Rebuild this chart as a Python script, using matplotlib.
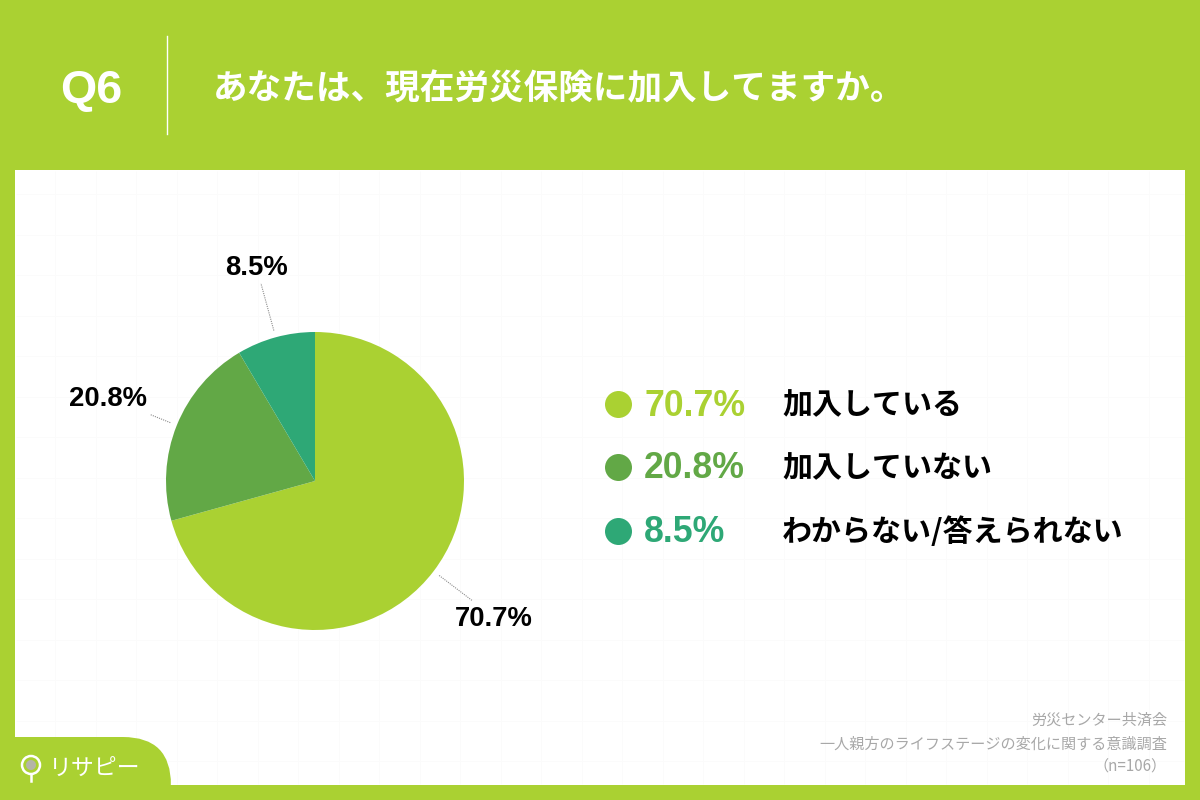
import numpy as np
import matplotlib
matplotlib.use('Agg')
import matplotlib.pyplot as plt
from matplotlib.patches import Rectangle, FancyBboxPatch, Circle, Wedge

plt.rcParams['font.family'] = ['Noto Sans CJK JP', 'DejaVu Sans']

# datos
categorias = ['加入している', '加入していない', 'わからない/答えられない']
valores = [70.7, 20.8, 8.5]
colores = ['#aad132', '#62a846', '#2ea876']
etiquetas = ['70.7%', '20.8%', '8.5%']
pregunta = 'Q6'
titulo = 'あなたは、現在労災保険に加入してますか。'
notas = ['労災センター共済会', '一人親方のライフステージの変化に関する意識調査', '（n=106）']

verde = '#aad132'
fig = plt.figure(figsize=(12, 8), dpi=100, facecolor=verde)

# fondo en pixeles
fondo = fig.add_axes([0, 0, 1, 1])
fondo.set_xlim(0, 1200)
fondo.set_ylim(800, 0)
fondo.axis('off')
fondo.add_patch(Rectangle((15, 170), 1170, 615, facecolor='white', edgecolor='none', zorder=0))

# cuadricula muy suave del panel
for x in np.arange(55, 1180, 40.5):
    fondo.plot([x, x], [171, 784], color='#fbfbfb', lw=0.7, zorder=0.5, solid_capstyle='butt')
for y in np.arange(194, 780, 40.5):
    fondo.plot([16, 1184], [y, y], color='#fbfbfb', lw=0.7, zorder=0.5, solid_capstyle='butt')

# cabecera
fondo.plot([167, 167], [36, 134], color='white', lw=1, zorder=2)
fondo.text(91, 91, pregunta, color='white', fontsize=33.5, fontweight='bold',
           family=['Liberation Sans'], ha='center', va='center')
fondo.text(213, 89, titulo, color='white', fontsize=24.9, fontweight='bold',
           ha='left', va='center')

# torta
cx, cy, radio = 315, 481, 149
ax = fig.add_axes([(cx - radio) / 1200, (800 - cy - radio) / 800, 2 * radio / 1200, 2 * radio / 800])
cunas, _ = ax.pie(valores, colors=colores, startangle=90, counterclock=False, radius=1)
ax.set_xlim(-1, 1)
ax.set_ylim(-1, 1)
ax.set_aspect('equal')

# etiquetas con linea punteada
largos = [198, 178, 205]
pos_texto = [(494, 619), (108, 399), (256, 268)]
for cuna, largo, pos, et in zip(cunas, largos, pos_texto, etiquetas):
    ang = np.deg2rad((cuna.theta1 + cuna.theta2) / 2)
    x0, y0 = cx + 156 * np.cos(ang), cy - 156 * np.sin(ang)
    x1, y1 = cx + largo * np.cos(ang), cy - largo * np.sin(ang)
    fondo.plot([x0, x1], [y0, y1], color='#8c8c8c', lw=0.8, ls=(0, (1, 1)), zorder=2)
    fondo.text(pos[0], pos[1], et, fontsize=19.8, fontweight='bold', color='black',
               family=['Liberation Sans'], ha='center', va='center')

# leyenda
ys = [404, 467, 531]
for y, color, et, cat in zip(ys, colores, etiquetas, categorias):
    fondo.scatter([618], [y], s=378, color=color, linewidths=0, zorder=3)
    fondo.text(644, y + 2, et, color=color, fontsize=25.7, fontweight='bold',
               family=['Liberation Sans'], ha='left', va='center')
    fondo.text(782, y + 1, cat, color='black', fontsize=21.6, fontweight='bold',
               ha='left', va='center')

# notas
fondo.text(1167, 720, notas[0], color='#a8a8a8', fontsize=10.9, ha='right', va='center')
fondo.text(1167, 744, notas[1], color='#a8a8a8', fontsize=10.9, ha='right', va='center')
fondo.text(1167, 767, notas[2], color='#a8a8a8', fontsize=10.9, ha='right', va='center')

# logo
fondo.add_patch(FancyBboxPatch((-40, 737), 211, 90, boxstyle='round,pad=0,rounding_size=48',
                               facecolor=verde, edgecolor='none', zorder=1))
fondo.add_patch(Rectangle((0, 785), 1200, 15, facecolor=verde, edgecolor='none', zorder=1.5))
fondo.add_patch(Rectangle((0, 170), 15, 630, facecolor=verde, edgecolor='none', zorder=1.5))
fondo.add_patch(Circle((31, 765), 9, facecolor='none', edgecolor='white', lw=1.8, zorder=3))
fondo.add_patch(Wedge((31, 765), 5, 0, 360, facecolor='#b5b5a8', edgecolor='none', zorder=3))
fondo.plot([31, 31], [774, 781], color='white', lw=1.8, zorder=3)
fondo.text(49, 768, 'リサピー', color='white', fontsize=16.5, ha='left', va='center', zorder=3)

fig.savefig('out.png', dpi=100, facecolor=verde)
